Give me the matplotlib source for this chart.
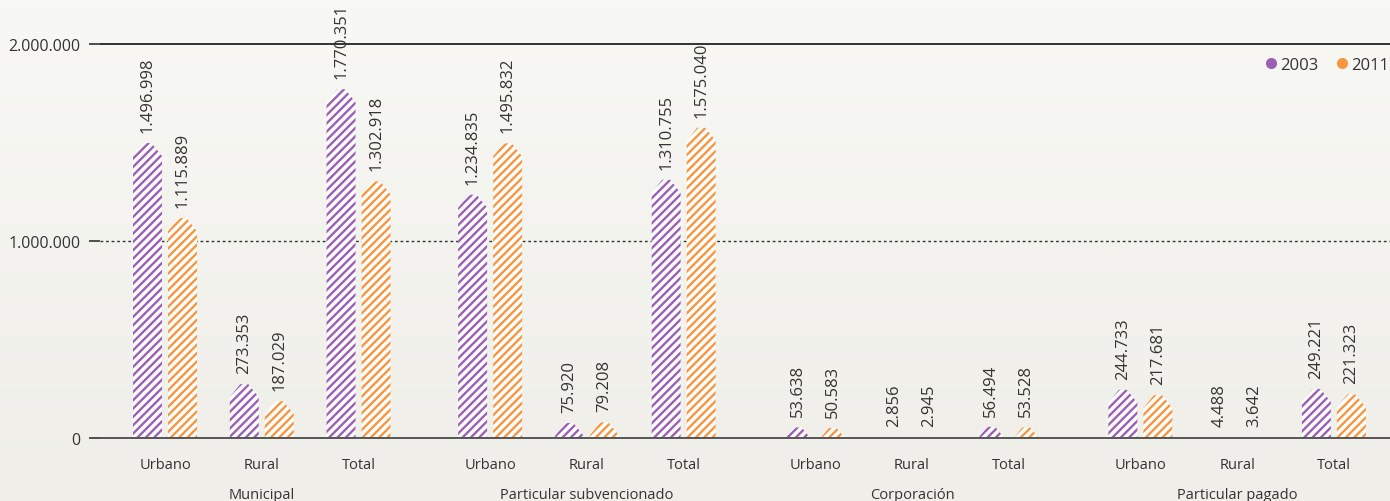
import matplotlib
matplotlib.use('Agg')
import matplotlib.pyplot as plt
from matplotlib.patches import Polygon
from matplotlib.lines import Line2D
from matplotlib.colors import LinearSegmentedColormap
import numpy as np

plt.rcParams['font.family'] = ['Open Sans', 'DejaVu Sans']
plt.rcParams['hatch.linewidth'] = 1.7

# data
groups = ['Municipal', 'Particular subvencionado', 'Corporación', 'Particular pagado']
categories = ['Urbano', 'Rural', 'Total']
years = ['2003', '2011']
vals_2003 = [1496998, 273353, 1770351,
             1234835, 75920, 1310755,
             53638, 2856, 56494,
             244733, 4488, 249221]
vals_2011 = [1115889, 187029, 1302918,
             1495832, 79208, 1575040,
             50583, 2945, 53528,
             217681, 3642, 221323]

purple = '#9b5fb4'
orange = '#f7963f'
text_col = '#333333'

def fmt(v):
    return f'{v:,}'.replace(',', '.')

fig = plt.figure(figsize=(13.9, 5.02), dpi=100)

# background gradient
bg = fig.add_axes([0, 0, 1, 1], zorder=-10)
cmap = LinearSegmentedColormap.from_list('bg', ['#f8f8f4', '#efeee9'])
bg.imshow(np.linspace(0, 1, 100).reshape(-1, 1), aspect='auto', cmap=cmap, extent=[0, 1, 0, 1])
bg.axis('off')

ax = fig.add_axes([100 / 1390, 63 / 502, 1290 / 1390, 439 / 502])
ax.patch.set_alpha(0)
ymax = 2000000 * 439 / 394
ax.set_ylim(0, ymax)
ax.set_xlim(-0.672, 12.66)

px = 1000000 / 197          # data units per pixel (y)
upx = 1 / 96.75              # data units per pixel (x)
bar_w = 29 * upx
off = 17.5 * upx
shoulder = 13 * px
flat = 4 * upx

xs = []
for g in range(len(groups)):
    for i in range(len(categories)):
        xs.append(g * 3.36 + i)
xs = np.array(xs)

def pent_bar(xc, v, color):
    x0, x1 = xc - bar_w / 2, xc + bar_w / 2
    s = v - shoulder
    bot = min(0, s) - 10 * px
    pts = [(x0, bot), (x0, s), (xc - flat, v), (xc + flat, v), (x1, s), (x1, bot)]
    p = Polygon(pts, closed=True, facecolor='white', edgecolor=color,
                linewidth=0, hatch='////', zorder=3)
    ax.add_patch(p)
    ax.annotate(fmt(v), (xc, v), xytext=(0, 8), textcoords='offset points',
                rotation=90, ha='center', va='bottom', fontsize=12,
                color=text_col, annotation_clip=False)

for x, a, b in zip(xs, vals_2003, vals_2011):
    pent_bar(x - off, a, purple)
    pent_bar(x + off, b, orange)

# reference lines
ax.axhline(2000000, color='#111111', lw=1.2, zorder=1)
ax.axhline(1000000, color='#333333', lw=1.0, ls=(0, (2, 2)), zorder=1)
ax.axhline(0, color='#555555', lw=1.4, zorder=4, clip_on=False)

for sp in ax.spines.values():
    sp.set_visible(False)

ax.set_yticks([0, 1000000, 2000000])
ax.set_yticklabels([fmt(v) for v in [0, 1000000, 2000000]])
ax.tick_params(axis='y', length=8, width=1.2, color='#333333', pad=6,
               labelsize=11.5, labelcolor=text_col)
ax.set_xticks(xs)
ax.set_xticklabels(categories * len(groups))
ax.tick_params(axis='x', length=0, pad=14, labelsize=10.5, labelcolor=text_col)

for g, name in enumerate(groups):
    ax.text(g * 3.36 + 1, -57 * px, name, ha='center', va='center',
            fontsize=10.5, color=text_col, clip_on=False)

handles = [Line2D([], [], marker='o', ls='', markersize=8, color=c, markeredgewidth=0)
           for c in [purple, orange]]
fig.legend(handles, years, loc='center right', bbox_to_anchor=(1.01, 0.869),
           ncol=2, frameon=False, fontsize=12, handletextpad=0.05,
           columnspacing=0.9, handlelength=1.0, labelcolor=text_col)

fig.savefig('out.png', dpi=100, facecolor=fig.get_facecolor())
